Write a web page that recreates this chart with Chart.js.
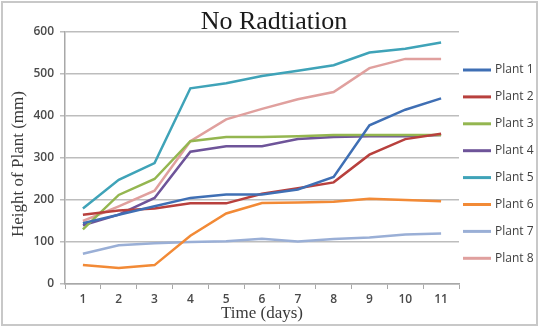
<!DOCTYPE html>
<html>
<head>
<meta charset="utf-8">
<script src="https://cdn.jsdelivr.net/npm/chart.js@4"></script>
<style>
  html, body { margin: 0; padding: 0; background: #fff; }
  #wrap { width: 539px; height: 327px; }
</style>
</head>
<body>
<div id="wrap"><canvas id="plantChart" width="539" height="327"></canvas></div>
<script>
const days = ['1', '2', '3', '4', '5', '6', '7', '8', '9', '10', '11'];

const plant1 = [145, 165, 185, 205, 213, 213, 225, 255, 378, 415, 442];
const plant2 = [165, 175, 180, 192, 192, 215, 228, 242, 308, 345, 358];
const plant3 = [130, 212, 250, 340, 350, 350, 352, 355, 355, 355, 355];
const plant4 = [140, 165, 205, 315, 328, 328, 345, 350, 352, 352, 355];
const plant5 = [180, 248, 288, 466, 478, 495, 508, 521, 551, 560, 575];
const plant6 = [45, 38, 45, 115, 168, 193, 194, 196, 203, 200, 197];
const plant7 = [72, 92, 97, 100, 102, 108, 101, 107, 111, 118, 120];
const plant8 = [150, 185, 222, 340, 392, 417, 440, 457, 514, 536, 536];

const seriesNames = ['Plant 1', 'Plant 2', 'Plant 3', 'Plant 4', 'Plant 5', 'Plant 6', 'Plant 7', 'Plant 8'];
const seriesData = [plant1, plant2, plant3, plant4, plant5, plant6, plant7, plant8];
const seriesColors = ['#3F6FB4', '#B8403D', '#94B650', '#6E5499', '#3FA3B8', '#F28A36', '#9AAFD6', '#E0A09E'];

const serif = '"Liberation Serif", "DejaVu Serif", serif';
const sans = '"Open Sans", "Liberation Sans", sans-serif';

// titles, legend and outer border drawn by hand for exact placement
const decorations = {
  id: 'decorations',
  afterDraw(chart) {
    const ctx = chart.ctx;
    ctx.save();

    ctx.strokeStyle = '#C8C8C8';
    ctx.lineWidth = 2;
    ctx.strokeRect(2, 2, 535, 323);

    ctx.fillStyle = '#1a1a1a';
    ctx.font = '26px ' + serif;
    ctx.textAlign = 'center';
    ctx.textBaseline = 'alphabetic';
    ctx.fillText('No Radtiation', 274, 29);

    ctx.font = '17px ' + serif;
    ctx.fillStyle = '#3a3a3a';
    ctx.fillText('Time (days)', 262, 318);

    ctx.save();
    ctx.translate(19, 164);
    ctx.rotate(-Math.PI / 2);
    ctx.textBaseline = 'middle';
    ctx.fillText('Height of Plant (mm)', 0, 0);
    ctx.restore();

    ctx.font = '12px ' + sans;
    ctx.textAlign = 'left';
    ctx.textBaseline = 'middle';
    chart.data.datasets.forEach((ds, i) => {
      const y = 70 + i * 26.9;
      ctx.strokeStyle = ds.borderColor;
      ctx.lineWidth = 3;
      ctx.beginPath();
      ctx.moveTo(463, y);
      ctx.lineTo(491, y);
      ctx.stroke();
      ctx.fillStyle = '#404040';
      ctx.fillText(ds.label, 495, y);
    });

    ctx.restore();
  }
};

new Chart(document.getElementById('plantChart'), {
  type: 'line',
  data: {
    labels: days,
    datasets: seriesNames.map((name, i) => ({
      label: name,
      data: seriesData[i],
      borderColor: seriesColors[i],
      backgroundColor: seriesColors[i],
      borderWidth: 2.5,
      pointRadius: 0,
      tension: 0,
      fill: false
    }))
  },
  options: {
    responsive: false,
    animation: false,
    layout: { padding: { left: 0, right: 80, top: 32, bottom: 0 } },
    plugins: {
      legend: { display: false },
      title: { display: false },
      tooltip: { enabled: false }
    },
    scales: {
      x: {
        offset: true,
        afterFit(scale) { scale.height = 43; },
        grid: {
          offset: true,
          drawOnChartArea: false,
          drawTicks: true,
          tickLength: 5,
          color: '#A8A8A8'
        },
        border: { color: '#A8A8A8', width: 1.5 },
        ticks: {
          color: '#4a4a4a',
          font: { family: sans, size: 12, weight: '600' },
          padding: 3,
          maxRotation: 0
        }
      },
      y: {
        min: 0,
        max: 600,
        afterFit(scale) { scale.width = 65; },
        grid: {
          color: '#BDBDBD',
          lineWidth: 1.5,
          drawTicks: true,
          tickLength: 5
        },
        border: { color: '#A8A8A8', width: 1.5 },
        ticks: {
          stepSize: 100,
          color: '#4a4a4a',
          font: { family: sans, size: 12, weight: '600' },
          padding: 6
        }
      }
    }
  },
  plugins: [decorations]
});
</script>
</body>
</html>
